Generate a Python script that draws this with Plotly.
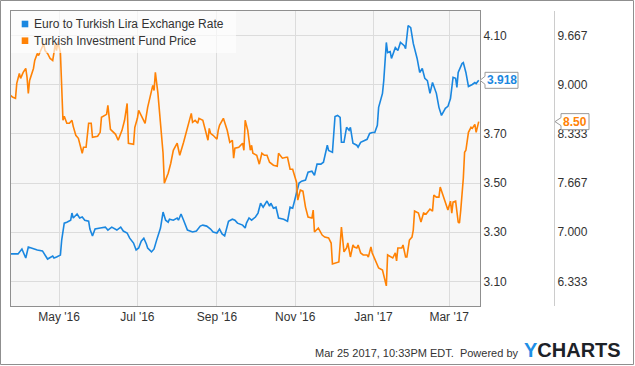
import plotly.graph_objects as go

# ---------------- data ----------------
eur_try_dates = [
    "2016-03-24","2016-03-30",
    "2016-04-02","2016-04-05","2016-04-07","2016-04-11","2016-04-14","2016-04-18","2016-04-20","2016-04-22","2016-04-26","2016-04-27","2016-04-29",
    "2016-05-02","2016-05-03","2016-05-05","2016-05-07","2016-05-10","2016-05-11","2016-05-12","2016-05-15","2016-05-17","2016-05-19","2016-05-21","2016-05-24","2016-05-25","2016-05-27","2016-05-29",
    "2016-06-02","2016-06-06","2016-06-08","2016-06-11","2016-06-15","2016-06-18","2016-06-20","2016-06-23","2016-06-25","2016-06-28","2016-06-30",
    "2016-07-02","2016-07-04","2016-07-06","2016-07-08","2016-07-09","2016-07-12","2016-07-14","2016-07-16","2016-07-19","2016-07-21","2016-07-23","2016-07-25","2016-07-26","2016-07-29",
    "2016-08-01","2016-08-02","2016-08-04","2016-08-06","2016-08-09","2016-08-11","2016-08-13","2016-08-16","2016-08-19","2016-08-21","2016-08-24","2016-08-27","2016-08-29",
    "2016-09-01","2016-09-03","2016-09-05","2016-09-07","2016-09-10","2016-09-13","2016-09-15","2016-09-17","2016-09-21","2016-09-23","2016-09-24","2016-09-26","2016-09-28",
    "2016-10-01","2016-10-03","2016-10-05","2016-10-07","2016-10-10","2016-10-12","2016-10-13","2016-10-15","2016-10-17","2016-10-19","2016-10-23","2016-10-26","2016-10-28","2016-10-30",
    "2016-11-02","2016-11-04","2016-11-06","2016-11-09","2016-11-11","2016-11-14","2016-11-16","2016-11-18","2016-11-21","2016-11-23","2016-11-26","2016-11-27","2016-11-30",
    "2016-12-02","2016-12-04","2016-12-06","2016-12-07","2016-12-09","2016-12-11","2016-12-13","2016-12-14","2016-12-15","2016-12-16","2016-12-19","2016-12-20","2016-12-22","2016-12-24","2016-12-27","2016-12-29","2016-12-31",
    "2017-01-02","2017-01-04","2017-01-05","2017-01-08","2017-01-09","2017-01-11","2017-01-12","2017-01-14","2017-01-15","2017-01-18","2017-01-20","2017-01-22","2017-01-25","2017-01-26","2017-01-28","2017-01-30",
    "2017-02-01","2017-02-04","2017-02-06","2017-02-08","2017-02-10","2017-02-12","2017-02-14","2017-02-16","2017-02-19","2017-02-21","2017-02-23","2017-02-26","2017-02-28",
    "2017-03-02","2017-03-04","2017-03-06","2017-03-07","2017-03-08","2017-03-11","2017-03-12","2017-03-14","2017-03-16","2017-03-19","2017-03-21","2017-03-22","2017-03-24",
]
eur_try_values = [
    3.212,3.212,
    3.232,3.195,3.240,3.232,3.228,3.224,3.207,3.191,3.203,3.195,3.199,
    3.207,3.268,3.337,3.341,3.349,3.378,3.358,3.374,3.358,3.362,3.349,3.345,3.313,3.285,3.313,
    3.317,3.321,3.309,3.321,3.309,3.321,3.305,3.297,3.276,3.256,3.228,
    3.236,3.264,3.276,3.252,3.236,3.220,3.232,3.268,3.317,3.382,3.349,3.341,3.353,3.349,
    3.358,3.349,3.374,3.349,3.309,3.305,3.301,3.305,3.325,3.329,3.325,3.313,3.301,
    3.297,3.313,3.293,3.285,3.345,3.353,3.349,3.337,3.329,3.317,3.337,3.358,3.349,
    3.362,3.378,3.418,3.402,3.427,3.406,3.418,3.398,3.402,3.358,3.353,3.345,3.402,3.398,
    3.459,3.500,3.508,3.512,3.544,3.548,3.532,3.577,3.577,3.585,3.654,3.633,3.625,
    3.771,3.775,3.767,3.666,3.666,3.727,3.715,3.727,3.702,3.662,3.654,3.646,3.666,3.670,3.678,3.702,3.706,
    3.706,3.735,3.808,3.865,3.917,4.072,4.031,4.035,4.007,4.051,4.039,4.072,4.059,4.047,4.141,4.132,
    4.068,4.007,3.950,3.966,3.926,3.917,3.865,3.909,3.865,3.808,3.775,3.804,3.812,
    3.844,3.930,3.926,3.889,3.950,3.986,3.990,3.950,3.893,3.901,3.909,3.905,3.918,
]

fund_dates = [
    "2016-03-24","2016-03-26","2016-03-28","2016-03-29","2016-03-31",
    "2016-04-01","2016-04-03","2016-04-05","2016-04-06","2016-04-07","2016-04-08","2016-04-11","2016-04-12","2016-04-14","2016-04-15","2016-04-16","2016-04-19","2016-04-20","2016-04-22","2016-04-24","2016-04-26","2016-04-27","2016-04-28","2016-04-29","2016-04-30",
    "2016-05-02","2016-05-03","2016-05-04","2016-05-05","2016-05-07","2016-05-09","2016-05-11","2016-05-12","2016-05-14","2016-05-16","2016-05-18","2016-05-19","2016-05-20","2016-05-22","2016-05-24","2016-05-26","2016-05-27","2016-05-31",
    "2016-06-02","2016-06-03","2016-06-07","2016-06-08","2016-06-10","2016-06-14","2016-06-16","2016-06-19","2016-06-21","2016-06-23","2016-06-24","2016-06-28","2016-06-29",
    "2016-07-01","2016-07-02","2016-07-05","2016-07-07","2016-07-09","2016-07-11","2016-07-13","2016-07-14","2016-07-15","2016-07-17","2016-07-19","2016-07-21","2016-07-22","2016-07-25","2016-07-27","2016-07-29",
    "2016-08-01","2016-08-03","2016-08-06","2016-08-09","2016-08-10","2016-08-12","2016-08-13","2016-08-15","2016-08-17","2016-08-18","2016-08-21","2016-08-22","2016-08-25","2016-08-26","2016-08-27","2016-08-29",
    "2016-09-01","2016-09-02","2016-09-03","2016-09-06","2016-09-07","2016-09-09","2016-09-11","2016-09-13","2016-09-14","2016-09-15","2016-09-18","2016-09-21","2016-09-22","2016-09-23","2016-09-25","2016-09-27","2016-09-28","2016-09-29",
    "2016-10-02","2016-10-04","2016-10-06","2016-10-08","2016-10-10","2016-10-12","2016-10-15","2016-10-18","2016-10-19","2016-10-22","2016-10-25","2016-10-26","2016-10-28","2016-10-30",
    "2016-11-02","2016-11-03","2016-11-05","2016-11-07","2016-11-09","2016-11-11","2016-11-14","2016-11-15","2016-11-16","2016-11-19","2016-11-22","2016-11-24","2016-11-27","2016-11-29","2016-11-30",
    "2016-12-04","2016-12-05","2016-12-07","2016-12-09","2016-12-11","2016-12-12","2016-12-14","2016-12-16","2016-12-17","2016-12-19","2016-12-20","2016-12-22","2016-12-24","2016-12-27","2016-12-28","2016-12-30","2016-12-31",
    "2017-01-04","2017-01-05","2017-01-08","2017-01-09","2017-01-11","2017-01-12","2017-01-15","2017-01-16","2017-01-18","2017-01-19","2017-01-20","2017-01-23","2017-01-24","2017-01-26","2017-01-27","2017-01-29","2017-01-31",
    "2017-02-01","2017-02-02","2017-02-05","2017-02-07","2017-02-09","2017-02-11","2017-02-14","2017-02-16","2017-02-17","2017-02-19","2017-02-21","2017-02-22","2017-02-25","2017-02-26","2017-02-28",
    "2017-03-02","2017-03-03","2017-03-04","2017-03-06","2017-03-08","2017-03-09","2017-03-10","2017-03-12","2017-03-13","2017-03-14","2017-03-16","2017-03-18","2017-03-19","2017-03-21","2017-03-22","2017-03-24",
]
fund_values = [
    8.856,8.829,8.815,9.018,9.153,
    9.086,9.167,9.221,9.099,8.883,9.058,9.221,9.329,9.424,9.397,9.437,9.559,9.464,9.424,9.356,9.329,9.437,9.559,9.464,9.586,
    9.437,8.964,8.518,8.572,8.477,8.477,8.518,8.436,8.315,8.274,8.152,8.071,8.152,8.152,8.477,8.477,8.288,8.301,
    8.355,8.558,8.599,8.720,8.396,8.328,8.247,8.382,8.518,8.747,8.207,8.193,8.423,
    8.545,8.653,8.558,8.477,8.693,8.829,8.991,8.923,9.167,8.883,8.450,8.071,7.666,7.801,7.936,8.112,
    8.207,8.044,8.220,8.409,8.477,8.612,8.491,8.518,8.477,8.545,8.518,8.450,8.247,8.409,8.342,8.315,
    8.261,8.382,8.450,8.545,8.491,8.382,8.220,8.247,8.004,8.139,8.152,8.207,8.112,8.518,8.382,8.112,8.179,8.071,
    8.044,7.923,8.071,8.044,8.044,7.950,7.909,7.896,8.071,8.004,8.017,8.017,7.855,7.855,
    7.679,7.436,7.571,7.557,7.341,7.206,7.192,7.301,7.003,7.057,6.962,6.935,6.922,6.854,6.570,
    6.584,6.597,7.071,6.733,6.787,6.854,6.665,6.827,6.800,6.787,6.827,6.719,6.692,6.692,6.665,6.800,6.719,
    6.543,6.516,6.489,6.421,6.273,6.692,6.665,6.651,6.719,6.611,6.787,6.787,6.827,6.665,6.665,6.895,6.935,
    7.030,7.287,7.260,7.138,7.260,7.246,7.314,7.287,7.503,7.476,7.476,7.612,7.463,7.395,7.301,
    7.422,7.260,7.409,7.422,7.138,7.125,7.301,7.733,8.085,8.112,8.355,8.423,8.409,8.463,8.355,8.50,
]

series_names = ["Euro to Turkish Lira Exchange Rate", "Turkish Investment Fund Price"]
x_tick_dates = ["2016-05-01","2016-07-01","2016-09-01","2016-11-01","2017-01-01","2017-03-01"]
x_tick_labels = ["May '16","Jul '16","Sep '16","Nov '16","Jan '17","Mar '17"]
left_ticks = [3.10, 3.30, 3.50, 3.70, 3.90, 4.10]
left_tick_labels = ["3.10", "3.30", "3.50", "3.70", "", "4.10"]   # 3.90 is hidden behind the value callout
right_ticks = [6.3333, 7.0, 7.6667, 8.3333, 9.0, 9.6667]
right_tick_labels = ["6.333", "7.000", "7.667", "8.333", "9.000", "9.667"]
footer_text = "Mar 25 2017, 10:33PM EDT.  Powered by"

# ---------------- style ----------------
BLUE = "#1a87e0"
ORANGE = "#ff8205"
FONT = "Liberation Sans, Arial, sans-serif"
TXT = "#333333"

W, H = 635, 366
ML, MR, MT, MB = 11, 20, 11, 60
PW = W - ML - MR
PH = H - MT - MB
PLOT_RIGHT = 480


def px(xp):
    return (xp - ML) / PW


def py(yp):
    return (MT + PH - yp) / PH


fig = go.Figure()
fig.add_trace(go.Scatter(x=eur_try_dates, y=eur_try_values, name=series_names[0],
                         mode="lines", line=dict(color=BLUE, width=1.6), yaxis="y"))
fig.add_trace(go.Scatter(x=fund_dates, y=fund_values, name=series_names[1],
                         mode="lines", line=dict(color=ORANGE, width=1.6), yaxis="y2"))

shapes = []
annotations = []

# legend (manual, semi transparent box over plot)
shapes.append(dict(type="rect", xref="paper", yref="paper", x0=px(11), x1=px(236), y0=py(53), y1=py(11),
                   fillcolor="rgba(255,255,255,0.65)", line=dict(width=0), layer="above"))
for i, (nm, col) in enumerate(zip(series_names, [BLUE, ORANGE])):
    cy = 24 + i * 16.7
    shapes.append(dict(type="rect", xref="paper", yref="paper", x0=px(21.7), x1=px(28.3),
                       y0=py(cy + 3.3), y1=py(cy - 3.3), fillcolor=col, line=dict(width=0), layer="above"))
    annotations.append(dict(text=nm, xref="paper", yref="paper", x=px(32), y=py(cy), xanchor="left",
                            yanchor="middle", showarrow=False, font=dict(family=FONT, size=12, color=TXT)))

# last-value callouts
blue_last = eur_try_values[-1]
orange_last = fund_values[-1]
shapes.append(dict(type="path", xref="paper", xsizemode="pixel", xanchor=px(PLOT_RIGHT),
                   yref="y", ysizemode="pixel", yanchor=blue_last,
                   path="M0,0 L5,4 L5,8 L38,8 L38,-8 L5,-8 L5,-4 Z",
                   fillcolor="white", line=dict(color="#9a9a9a", width=1), layer="above"))
annotations.append(dict(text="<b>%.3f</b>" % blue_last, xref="paper", yref="y", x=px(PLOT_RIGHT + 21.5),
                        y=blue_last, xanchor="center", yanchor="middle", showarrow=False,
                        font=dict(family=FONT, size=12, color=BLUE)))
shapes.append(dict(type="path", xref="paper", xsizemode="pixel", xanchor=px(555),
                   yref="y2", ysizemode="pixel", yanchor=orange_last,
                   path="M0,0 L6,4 L6,8 L34,8 L34,-8 L6,-8 L6,-4 Z",
                   fillcolor="white", line=dict(color="#9a9a9a", width=1), layer="above"))
annotations.append(dict(text="<b>%.2f</b>" % orange_last, xref="paper", yref="y2", x=px(575),
                        y=orange_last, xanchor="center", yanchor="middle", showarrow=False,
                        font=dict(family=FONT, size=12, color=ORANGE)))

# footer
annotations.append(dict(text=footer_text, xref="paper", yref="paper", x=px(520), y=py(353),
                        xanchor="right", yanchor="middle", showarrow=False,
                        font=dict(family=FONT, size=11, color=TXT)))
annotations.append(dict(text="<b><span style='color:#1e8fe6'>Y</span>CHARTS</b>", xref="paper", yref="paper",
                        x=px(522), y=py(350), xanchor="left", yanchor="middle", showarrow=False,
                        font=dict(family=FONT, size=20, color="#1d2228")))

# outer border
shapes.append(dict(type="rect", xref="paper", yref="paper", x0=px(0.5), x1=px(633.5), y0=py(364.5), y1=py(0.5),
                   line=dict(color="#8f8f8f", width=1), fillcolor="rgba(0,0,0,0)", layer="above"))

fig.update_layout(
    width=W, height=H,
    margin=dict(l=ML, r=MR, t=MT, b=MB, pad=0),
    paper_bgcolor="white", plot_bgcolor="#f7f7f7",
    showlegend=False,
    font=dict(family=FONT, size=12, color=TXT),
    xaxis=dict(domain=[0, px(PLOT_RIGHT)], type="date", range=["2016-03-24 12:00", "2017-03-25"],
               tickvals=x_tick_dates, ticktext=x_tick_labels, showgrid=True, gridcolor="#dcdcdc",
               gridwidth=1, showline=True, linecolor="#8f8f8f", linewidth=1, mirror=True, ticks="",
               tickfont=dict(family=FONT, size=12, color=TXT), zeroline=False),
    yaxis=dict(side="right", range=[3.0, 4.2], tickvals=left_ticks, ticktext=left_tick_labels,
               showgrid=True, gridcolor="#dcdcdc", gridwidth=1,
               showline=True, linecolor="#8f8f8f", linewidth=1, mirror=True, ticks="", zeroline=False,
               tickfont=dict(family=FONT, size=12, color=TXT)),
    yaxis2=dict(overlaying="y", side="right", anchor="free", position=px(554), range=[6.0, 10.0],
                tickvals=right_ticks, ticktext=right_tick_labels, showgrid=False,
                showline=True, linecolor="#cccccc", linewidth=1, ticks="", zeroline=False,
                tickfont=dict(family=FONT, size=12, color=TXT)),
    shapes=shapes, annotations=annotations,
)

fig.write_html("out.html", post_script="document.body.style.margin='0';",
               config={"displayModeBar": False})
